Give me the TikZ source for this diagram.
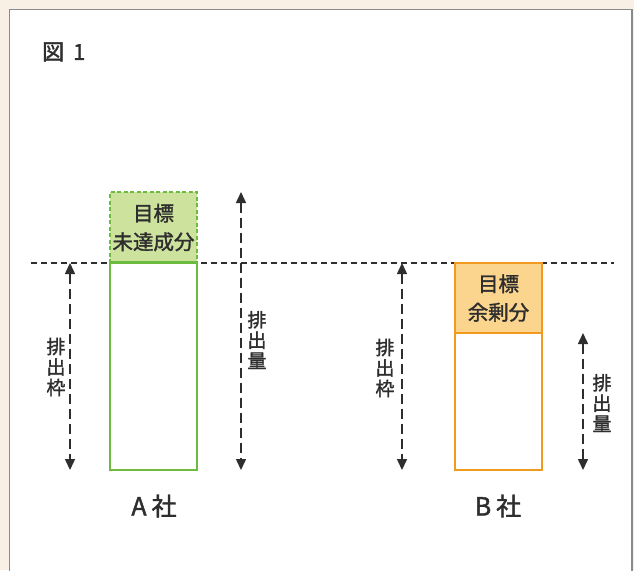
\documentclass[tikz,border=0pt]{standalone}
\usepackage{fontspec}
\setmainfont{Noto Sans CJK JP}
\newfontfamily\medfont{Noto Sans CJK JP}[UprightFeatures={FakeBold=1.6}]
\usetikzlibrary{arrows.meta}
\definecolor{bgbeige}{HTML}{F8F0E5}
\definecolor{framegray}{HTML}{8A8A8A}
\definecolor{txtgray}{HTML}{2E2E2E}
\definecolor{grnline}{HTML}{6DBB3F}
\definecolor{grnfill}{HTML}{CDE29C}
\definecolor{orgline}{HTML}{F29A20}
\definecolor{orgfill}{HTML}{FBD48E}
\tikzset{
  boxbase/.style={minimum width=87pt, inner sep=0pt, line width=2pt, text=txtgray, align=center, font=\medfont\fontsize{20.5}{28.5}\selectfont},
  dimarrow/.style={draw=txtgray, line width=1.5pt, dash pattern=on 10pt off 5pt, {Triangle[width=10pt,length=11pt]}-{Triangle[width=10pt,length=11pt]}},
  vlabel/.style={text=txtgray, align=center, inner sep=0pt, font=\medfont\fontsize{19}{20.5}\selectfont},
  company/.style={text=txtgray, font=\medfont\fontsize{25}{28}\selectfont, inner sep=0pt},
}
\begin{document}
\begin{tikzpicture}[x=1pt,y=-1pt]
\useasboundingbox (0,0) rectangle (634,570);
\fill[bgbeige] (0,0) rectangle (634,570);
\draw[framegray, fill=white, line width=1.2pt] (9.5,9.5) rectangle (632,590);
\node[company, anchor=west, font=\medfont\fontsize{22}{26}\selectfont] (title) at (42,52) {図\hspace{9pt}1};
% baseline
\coordinate (hl) at (31,263);
\coordinate (hr) at (614,263);
\draw[txtgray, line width=1.1pt, dash pattern=on 6pt off 4pt] (hl) -- (hr);
% company A
\node[boxbase, draw=grnline, fill=white, minimum height=207pt] (Alow) at (153.5,366.5) {};
\node[boxbase, draw=grnline, fill=grnfill, dashed, dash pattern=on 4pt off 2.5pt, minimum height=71pt] (Atop) at (153.5,227.5) {目標\\未達成分};
\draw[grnline, line width=2pt] (Alow.north west) -- (Alow.north east);
\coordinate (A1t) at (70,263);
\coordinate (A1b) at (70,470);
\draw[dimarrow] (A1t) -- (A1b);
\node[vlabel] (A1l) at (56,367) {排\\出\\枠};
\coordinate (A2t) at (241,192);
\coordinate (A2b) at (241,470);
\draw[dimarrow] (A2t) -- (A2b);
\node[vlabel] (A2l) at (257,340) {排\\出\\量};
\node[company] (Aname) at (154,506) {A\hspace{5pt}社};
% company B
\node[boxbase, draw=orgline, fill=white, minimum height=137pt] (Blow) at (498.5,401.5) {};
\node[boxbase, draw=orgline, fill=orgfill, minimum height=70pt] (Btop) at (498.5,298) {目標\\余剰分};
\coordinate (B1t) at (402,263);
\coordinate (B1b) at (402,470);
\draw[dimarrow] (B1t) -- (B1b);
\node[vlabel] (B1l) at (385,368) {排\\出\\枠};
\coordinate (B2t) at (583,333);
\coordinate (B2b) at (583,470);
\draw[dimarrow] (B2t) -- (B2b);
\node[vlabel] (B2l) at (602,403) {排\\出\\量};
\node[company] (Bname) at (498,506) {B\hspace{5pt}社};
\end{tikzpicture}
\end{document}
